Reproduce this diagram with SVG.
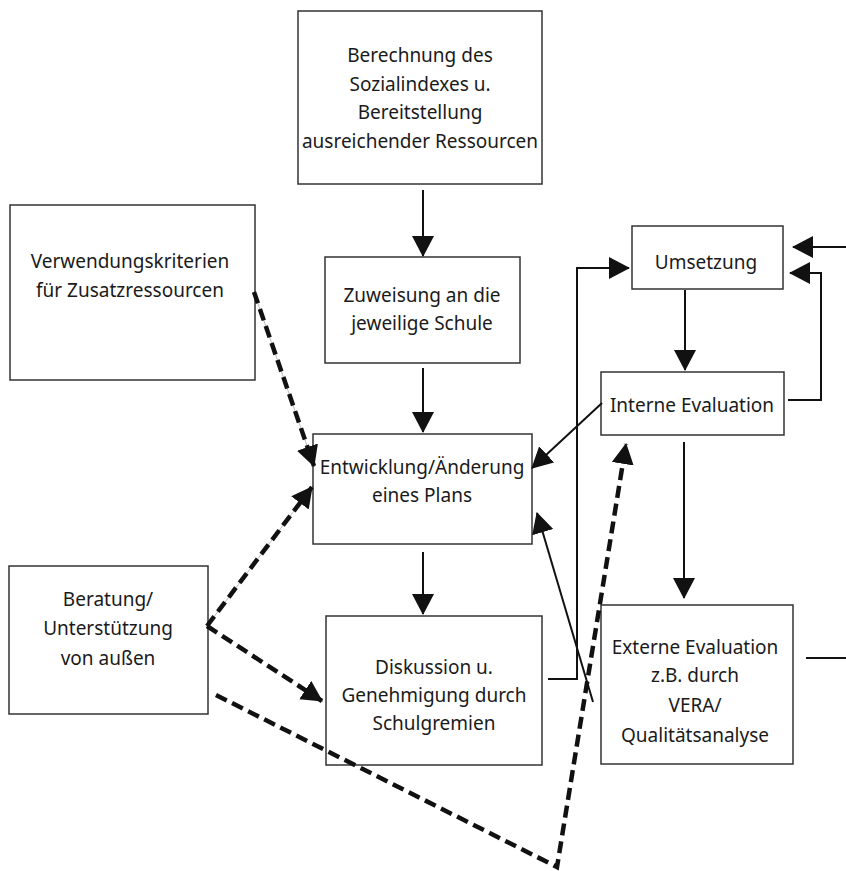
<svg xmlns="http://www.w3.org/2000/svg" width="846" height="871" viewBox="0 0 846 871">
<style>
.box{fill:#fff;stroke:#333;stroke-width:1.5}
.t{font-family:"Noto Sans","Open Sans","DejaVu Sans",sans-serif;font-size:19px;fill:#1a1a1a;text-anchor:middle}
.ln{fill:none;stroke:#111;stroke-width:2}
.ds{fill:none;stroke:#111;stroke-width:4.5;stroke-dasharray:12 6}
.gr{fill:none;stroke:#bbb;stroke-width:1}
</style>
<defs>
<marker id="ah" markerUnits="userSpaceOnUse" markerWidth="22" markerHeight="24" refX="20" refY="11" orient="auto">
<path d="M0,0 L21,11 L0,22 z" fill="#111"/>
</marker>
</defs>
<rect width="846" height="871" fill="#fff"/>
<g id="berechnung">
<rect class="box" x="298" y="11" width="244" height="173"/>
<text class="t" x="420" y="62">Berechnung des</text>
<text class="t" x="420" y="91">Sozialindexes u.</text>
<text class="t" x="420" y="119">Bereitstellung</text>
<text class="t" x="420" y="148">ausreichender Ressourcen</text>
</g>
<g id="verwendung">
<rect class="box" x="10" y="205" width="245" height="175"/>
<text class="t" x="130" y="268">Verwendungskriterien</text>
<text class="t" x="130" y="297">für Zusatzressourcen</text>
</g>
<g id="zuweisung">
<rect class="box" x="325" y="257" width="195" height="106"/>
<text class="t" x="422" y="302">Zuweisung an die</text>
<text class="t" x="422" y="330">jeweilige Schule</text>
</g>
<g id="entwicklung">
<rect class="box" x="313" y="434" width="219" height="110"/>
<text class="t" x="422" y="474">Entwicklung/Änderung</text>
<text class="t" x="422" y="502">eines Plans</text>
</g>
<g id="diskussion">
<rect class="box" x="326" y="616" width="216" height="149"/>
<text class="t" x="434" y="674">Diskussion u.</text>
<text class="t" x="434" y="702">Genehmigung durch</text>
<text class="t" x="434" y="730">Schulgremien</text>
</g>
<g id="beratung">
<rect class="box" x="9" y="566" width="199" height="148"/>
<text class="t" x="108" y="606">Beratung/</text>
<text class="t" x="108" y="635">Unterstützung</text>
<text class="t" x="108" y="665">von außen</text>
</g>
<g id="umsetzung">
<rect class="box" x="632" y="226" width="151" height="63"/>
<text class="t" x="706" y="269">Umsetzung</text>
</g>
<g id="interne">
<rect class="box" x="601" y="372" width="183" height="63"/>
<text class="t" x="692" y="412">Interne Evaluation</text>
</g>
<g id="externe">
<rect class="box" x="601" y="605" width="192" height="159"/>
<text class="t" x="695" y="654">Externe Evaluation</text>
<text class="t" x="695" y="682">z.B. durch</text>
<text class="t" x="695" y="712">VERA/</text>
<text class="t" x="695" y="742">Qualitätsanalyse</text>
</g>
<g id="connectors">
<line class="ln" x1="423" y1="190" x2="423" y2="256" marker-end="url(#ah)"/>
<line class="ln" x1="423" y1="368" x2="423" y2="432" marker-end="url(#ah)"/>
<line class="ln" x1="423" y1="552" x2="423" y2="614" marker-end="url(#ah)"/>
<polyline class="ln" points="548,679 577,679 577,268 629,268" marker-end="url(#ah)"/>
<line class="ln" x1="685" y1="290" x2="685" y2="370" marker-end="url(#ah)"/>
<polyline class="ln" points="788,400 821,400 821,273 790,273" marker-end="url(#ah)"/>
<line class="ln" x1="846" y1="247" x2="793" y2="247" marker-end="url(#ah)"/>
<line class="ln" x1="602" y1="403" x2="532" y2="468" marker-end="url(#ah)"/>
<line class="ln" x1="684" y1="442" x2="684" y2="598" marker-end="url(#ah)"/>
<line class="ln" x1="593" y1="702" x2="537" y2="513" marker-end="url(#ah)"/>
<line class="ln" x1="806" y1="658" x2="846" y2="658"/>
<line class="gr" x1="254" y1="292" x2="314" y2="466"/>
<line class="ds" x1="254" y1="292" x2="314" y2="466" marker-end="url(#ah)"/>
<line class="gr" x1="207" y1="626" x2="312" y2="487"/>
<line class="ds" x1="207" y1="626" x2="312" y2="487" marker-end="url(#ah)"/>
<line class="ds" x1="207" y1="626" x2="322" y2="701" marker-end="url(#ah)"/>
<polyline class="ds" points="216,695 557,867 626,444" marker-end="url(#ah)"/>
</g>
</svg>
